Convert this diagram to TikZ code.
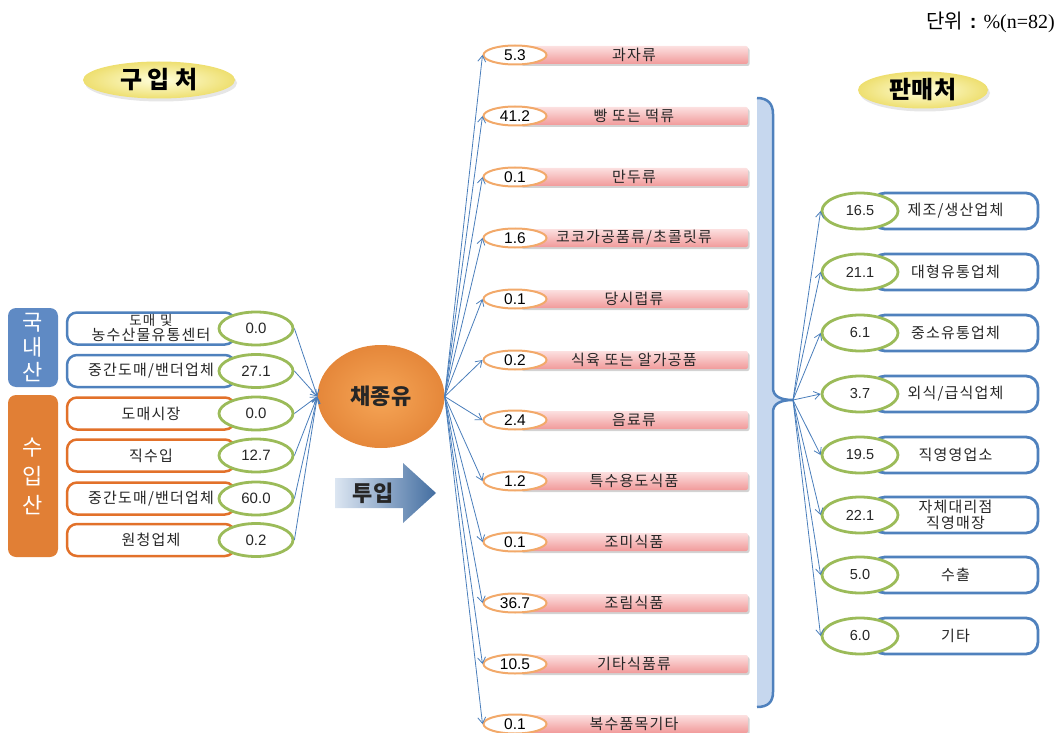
\documentclass[tikz,border=0pt]{standalone}
\usepackage{fontspec}
\setmainfont{Liberation Sans}
\newfontfamily\kr{Noto Sans CJK KR}
\newfontfamily\krsp[LetterSpace=8]{Noto Sans CJK KR}
\newfontfamily\ser{Liberation Serif}
\usetikzlibrary{arrows.meta,shadows,shapes.geometric}
\definecolor{arrowblue}{HTML}{4A7EBB}
\definecolor{bblue}{HTML}{4F81BD}
\definecolor{borange}{HTML}{E2712A}
\definecolor{ggreen}{HTML}{9BBB59}
\definecolor{domfill}{HTML}{5F8AC4}
\definecolor{impfill}{HTML}{E17F35}
\definecolor{pinka}{HTML}{FCE0E0}
\definecolor{pinkb}{HTML}{F19A9A}
\definecolor{pellc}{HTML}{F2A96A}
\definecolor{bracefill}{HTML}{C6D7EE}
\definecolor{yin}{HTML}{FFFFDD}
\definecolor{yout}{HTML}{EEDF70}
\definecolor{oin}{HTML}{F6A657}
\definecolor{oout}{HTML}{E5873A}
\definecolor{txt}{HTML}{262626}
\tikzset{
  lbox/.style={draw=#1, line width=2.5pt, rounded corners=10pt, fill=white, minimum width=168pt, minimum height=32pt, inner sep=0pt, align=center, font=\krsp\fontsize{15}{15}\selectfont, text=txt},
  gell/.style={ellipse, draw=ggreen, line width=2.8pt, fill=white, minimum width=74pt, minimum height=33pt, inner sep=0pt, font=\fontsize{15}{15}\selectfont, text=txt},
  sidebox/.style={rounded corners=8pt, fill=#1, text=white, align=center, inner sep=0pt},
  pellip/.style={ellipse, draw=pellc, line width=2pt, fill=white, minimum width=63pt, minimum height=19pt, inner sep=0pt, font=\fontsize{15.5}{15.5}\selectfont, text=black},
  pbar/.style={rounded corners=2pt, top color=pinka, bottom color=pinkb, minimum width=228pt, minimum height=18pt, inner sep=0pt, font=\krsp\fontsize{15}{15}\selectfont, text=txt, drop shadow={opacity=0.35, shadow xshift=1.5pt, shadow yshift=-2pt}},
  rbox/.style={draw=bblue, line width=2.8pt, rounded corners=12pt, fill=white, minimum width=165pt, minimum height=36pt, inner sep=0pt, align=center, font=\krsp\fontsize{15}{16}\selectfont, text=txt},
  rell/.style={ellipse, draw=ggreen, line width=2.8pt, fill=white, minimum width=76pt, minimum height=36pt, inner sep=0pt, font=\fontsize{14.5}{14.5}\selectfont, text=txt},
  arr/.style={draw=arrowblue, line width=0.8pt, -{Straight Barb[length=6pt,width=8pt]}},
  yell/.style={ellipse, inner color=yin, outer color=yout, minimum width=#1, minimum height=37pt, inner sep=0pt, drop shadow={opacity=0.2, shadow xshift=2pt, shadow yshift=-3pt}, font=\kr\bfseries\fontsize{24}{24}\selectfont, text=black},
}
\begin{document}
\begin{tikzpicture}[x=1pt,y=-1pt]
\useasboundingbox (0,0) rectangle (1061,733);

% unit
\node[anchor=east, inner sep=0pt, font=\fontsize{20}{20}\selectfont] (unit) at (1055,22) {{\kr 단위}\hspace{7pt}{\bfseries :}\hspace{7pt}{\ser \%(n=82)}};

% titles
\node[yell=152pt] (buy) at (159,80) {구 입 처};
\node[yell=130pt] (sell) at (923,90) {판매처};

% side labels
\node[sidebox=domfill, minimum width=50pt, minimum height=79pt, font=\kr\fontsize{22}{25}\selectfont] (dom) at (33,347.5) {국\\내\\산};
\node[sidebox=impfill, minimum width=50pt, minimum height=162pt, font=\kr\fontsize{22}{29}\selectfont] (imp) at (33,476) {수\\입\\산};

% left boxes
\node[lbox=bblue] (l1) at (151,328.5) {\fontsize{13.5}{15}\selectfont 도매\hspace{5pt}및\\농수산물유통센터};
\node[lbox=bblue] (l2) at (151,371) {중간도매/밴더업체};
\node[lbox=borange] (l3) at (151,413.5) {도매시장};
\node[lbox=borange] (l4) at (151,455.5) {직수입};
\node[lbox=borange] (l5) at (151,498.5) {중간도매/밴더업체};
\node[lbox=borange] (l6) at (151,540) {원청업체};
\node[gell] (g1) at (256,328.5) {0.0};
\node[gell] (g2) at (256,371) {27.1};
\node[gell] (g3) at (256,413.5) {0.0};
\node[gell] (g4) at (256,455.5) {12.7};
\node[gell] (g5) at (256,498.5) {60.0};
\node[gell] (g6) at (256,540) {0.2};

% centre
\node[ellipse, minimum width=127pt, minimum height=103pt, inner sep=0pt, inner color=oin, outer color=oout, font=\kr\bfseries\fontsize{22}{22}\selectfont, text=txt] (src) at (381,396.5) {채종유};

% input arrow
\shade[left color=white!80!bblue, right color=bblue!85!black] (335,478) -- (403,478) -- (403,463) -- (436,493) -- (403,523) -- (403,508) -- (335,508) -- cycle;
\node[inner sep=0pt, font=\kr\bfseries\fontsize{22}{22}\selectfont, text=txt] (tuip) at (373,493) {투입};

% middle rows
\foreach \y/\v/\t [count=\i] in {55/5.3/과자류, 116/41.2/빵 또는 떡류, 177/0.1/만두류, 238/1.6/{코코가공품류/초콜릿류}, 299/0.1/당시럽류, 360/0.2/식육 또는 알가공품, 420/2.4/음료류, 481/1.2/특수용도식품, 542/0.1/조미식품, 603/36.7/조림식품, 664/10.5/기타식품류, 724/0.1/복수품목기타}{
  \node[pbar] (pb\i) at (634,\y) {\t};
  \node[pellip] (pe\i) at (515,\y) {\v};
}

% brace
\fill[bracefill] (757,98) .. controls (768,98) and (773,104) .. (773,114) -- (773,388) .. controls (773,396) and (780,400) .. (793,400) .. controls (780,400) and (773,404) .. (773,412) -- (773,692) .. controls (773,702) and (768,707) .. (757,707) -- cycle;
\draw[bblue, line width=2.5pt] (757,98) .. controls (768,98) and (773,104) .. (773,114) -- (773,388) .. controls (773,396) and (780,400) .. (793,400) .. controls (780,400) and (773,404) .. (773,412) -- (773,692) .. controls (773,702) and (768,707) .. (757,707);
\coordinate (bt) at (793,400);

% right rows
\foreach \y/\v/\t [count=\i] in {211/16.5/{제조/생산업체}, 272/21.1/대형유통업체, 333/6.1/중소유통업체, 394/3.7/{외식/급식업체}, 455/19.5/직영영업소, 515/22.1/{자체대리점\\직영매장}, 575/5.0/수출, 636/6.0/기타}{
  \node[rbox] (rb\i) at (955.5,\y) {\t};
  \node[rell] (re\i) at (860,\y) {\v};
}

% connectors
\foreach \i in {1,...,6} \draw[arr] (g\i.east) -- (src.west);
\foreach \i in {1,...,12} \draw[arr] (src.east) -- (pe\i.west);
\foreach \i in {1,...,8} \draw[arr] (bt) -- (re\i.west);
\end{tikzpicture}
\end{document}
